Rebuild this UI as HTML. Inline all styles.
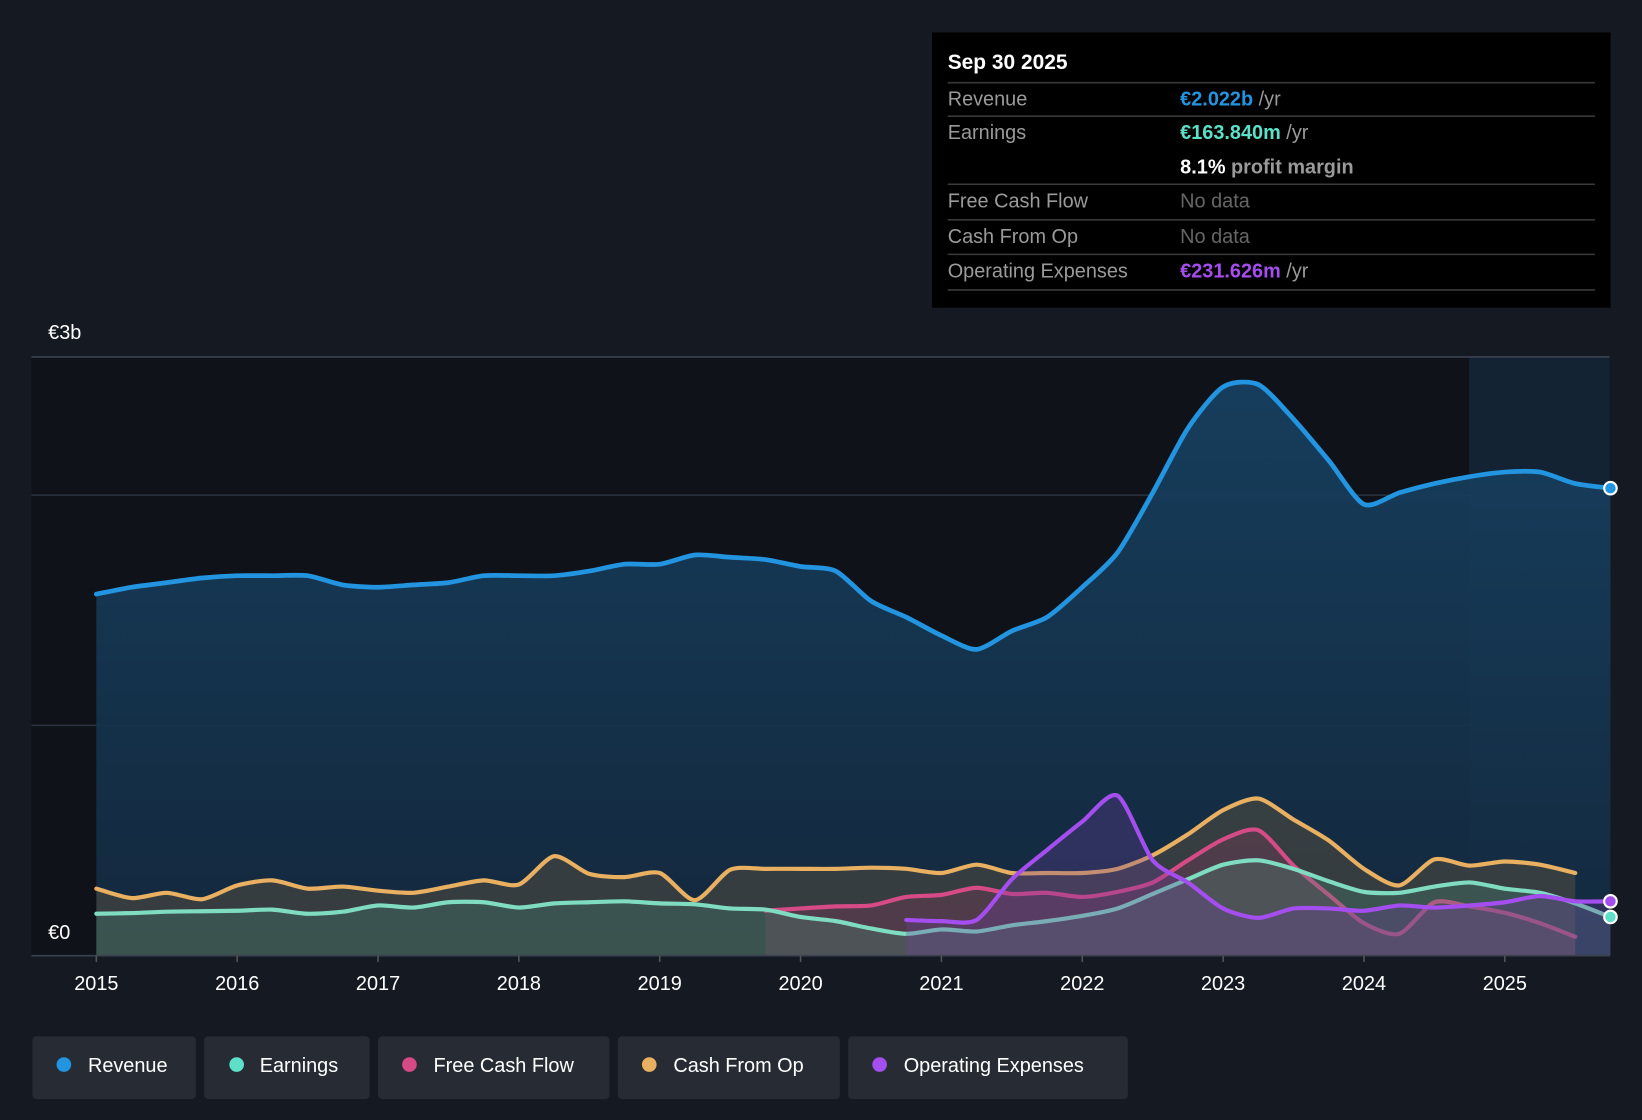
<!DOCTYPE html>
<html><head><meta charset="utf-8"><style>
html,body{margin:0;padding:0;background:#151a22;}
svg{display:block;font-family:"Liberation Sans",sans-serif;}
</style></head><body>
<svg id="chart" width="1642" height="1120" viewBox="0 0 1568 1070" preserveAspectRatio="none">
<defs>
<linearGradient id="revg" x1="0" y1="0" x2="0" y2="1"><stop offset="0" stop-color="#164060" stop-opacity="0.95"/><stop offset="1" stop-color="#142a40" stop-opacity="0.9"/></linearGradient>
</defs>
<rect x="0" y="0" width="1568" height="1070" fill="#151a22"/>
<rect x="30" y="341" width="1507" height="572" fill="#0f1219"/>
<rect x="1403" y="341" width="134" height="572" fill="#1b3a55" opacity="0.45"/>
<g id="grid"></g>
<g id="series"></g>
<g id="axes"></g>
<text x="46" y="324" fill="#ffffff" font-size="19">€3b</text>
<text x="46" y="897" fill="#ffffff" font-size="19">€0</text>
<g>
<rect x="890" y="31" width="648" height="263" fill="#000"/>
<text x="905" y="66" fill="#fff" font-size="20" font-weight="bold">Sep 30 2025</text>
<line x1="905" y1="79" x2="1523" y2="79" stroke="#3a3a3a" stroke-width="1.5"/>
<text x="905" y="101" fill="#9a9a9a" font-size="19">Revenue</text>
<text x="1127" y="101" font-size="19" font-weight="bold" fill="#2394df">€2.022b <tspan fill="#9a9a9a" font-weight="normal">/yr</tspan></text>
<line x1="905" y1="111" x2="1523" y2="111" stroke="#3a3a3a" stroke-width="1.5"/>
<text x="905" y="133" fill="#9a9a9a" font-size="19">Earnings</text>
<text x="1127" y="133" font-size="19" font-weight="bold" fill="#5ee0c8">€163.840m <tspan fill="#9a9a9a" font-weight="normal">/yr</tspan></text>
<text x="1127" y="166" font-size="19" font-weight="bold" fill="#fff">8.1% <tspan fill="#9a9a9a">profit margin</tspan></text>
<line x1="905" y1="176" x2="1523" y2="176" stroke="#3a3a3a" stroke-width="1.5"/>
<text x="905" y="198" fill="#9a9a9a" font-size="19">Free Cash Flow</text>
<text x="1127" y="198" fill="#666" font-size="19">No data</text>
<line x1="905" y1="210" x2="1523" y2="210" stroke="#3a3a3a" stroke-width="1.5"/>
<text x="905" y="232" fill="#9a9a9a" font-size="19">Cash From Op</text>
<text x="1127" y="232" fill="#666" font-size="19">No data</text>
<line x1="905" y1="243" x2="1523" y2="243" stroke="#3a3a3a" stroke-width="1.5"/>
<text x="905" y="265" fill="#9a9a9a" font-size="19">Operating Expenses</text>
<text x="1127" y="265" font-size="19" font-weight="bold" fill="#a54ef0">€231.626m <tspan fill="#9a9a9a" font-weight="normal">/yr</tspan></text>
<line x1="905" y1="277" x2="1523" y2="277" stroke="#3a3a3a" stroke-width="1.5"/>
</g>
<g>
<g><rect x="31" y="990" width="156" height="60" rx="4" fill="#262b34"/><circle cx="61" cy="1017" r="7" fill="#2394df"/><text x="84" y="1024" fill="#fff" font-size="19">Revenue</text></g>
<g><rect x="195" y="990" width="158" height="60" rx="4" fill="#262b34"/><circle cx="226" cy="1017" r="7" fill="#5ee0c8"/><text x="248" y="1024" fill="#fff" font-size="19">Earnings</text></g>
<g><rect x="361" y="990" width="221" height="60" rx="4" fill="#262b34"/><circle cx="391" cy="1017" r="7" fill="#d64a86"/><text x="414" y="1024" fill="#fff" font-size="19">Free Cash Flow</text></g>
<g><rect x="590" y="990" width="212" height="60" rx="4" fill="#262b34"/><circle cx="620" cy="1017" r="7" fill="#e8b060"/><text x="643" y="1024" fill="#fff" font-size="19">Cash From Op</text></g>
<g><rect x="810" y="990" width="267" height="60" rx="4" fill="#262b34"/><circle cx="840" cy="1017" r="7" fill="#a54ef0"/><text x="863" y="1024" fill="#fff" font-size="19">Operating Expenses</text></g>
</g>
</svg>
<script>
const years = [2015,2016,2017,2018,2019,2020,2021,2022,2023,2024,2025];
const gridValues = [1,2];
const revenueStart = 2015;
const revenue = [1.57,1.60,1.62,1.64,1.65,1.65,1.65,1.61,1.60,1.61,1.62,1.65,1.65,1.65,1.67,1.70,1.70,1.74,1.73,1.72,1.69,1.67,1.54,1.47,1.39,1.33,1.41,1.47,1.60,1.75,2.01,2.29,2.47,2.48,2.33,2.15,1.96,2.01,2.05,2.08,2.10,2.10,2.05,2.03];
const earningsStart = 2015;
const earnings = [0.182,0.185,0.191,0.193,0.195,0.200,0.182,0.191,0.218,0.209,0.232,0.232,0.209,0.227,0.232,0.236,0.227,0.223,0.205,0.200,0.168,0.150,0.118,0.095,0.114,0.105,0.132,0.150,0.173,0.205,0.268,0.332,0.395,0.414,0.377,0.323,0.277,0.273,0.300,0.318,0.291,0.273,0.227,0.168];
const cashOpStart = 2015;
const cashOp = [0.291,0.25,0.273,0.245,0.305,0.327,0.291,0.3,0.282,0.273,0.3,0.327,0.309,0.432,0.355,0.341,0.359,0.241,0.373,0.377,0.377,0.377,0.382,0.377,0.359,0.395,0.359,0.359,0.359,0.377,0.436,0.527,0.632,0.682,0.591,0.5,0.377,0.305,0.418,0.391,0.409,0.395,0.359];
const fcfStart = 2019.75;
const fcf = [0.195,0.205,0.214,0.218,0.255,0.264,0.295,0.268,0.273,0.255,0.277,0.318,0.414,0.505,0.545,0.391,0.264,0.141,0.095,0.232,0.214,0.186,0.141,0.082];
const opexStart = 2020.75;
const opex = [0.155,0.15,0.155,0.332,0.459,0.582,0.695,0.414,0.318,0.205,0.164,0.205,0.205,0.195,0.218,0.209,0.218,0.232,0.259,0.236,0.236];

const NS='http://www.w3.org/2000/svg';
const X0=92, PXY=134.5, Y0=913, PXB=220;
const xs = t => X0 + (t-2015)*PXY;
const ys = v => Y0 - v*PXB;
function mk(tag, attrs, parent){const e=document.createElementNS(NS,tag);for(const k in attrs)e.setAttribute(k,attrs[k]);parent.appendChild(e);return e;}
function pts(start, arr){return arr.map((v,i)=>[xs(start+i*0.25), ys(v)]);}
function smooth(p){const k=8;let d='M'+p[0][0]+','+p[0][1];for(let i=0;i<p.length-1;i++){const p0=p[i-1]||p[i],p1=p[i],p2=p[i+1],p3=p[i+2]||p2;const c1=[p1[0]+(p2[0]-p0[0])/k,p1[1]+(p2[1]-p0[1])/k],c2=[p2[0]-(p3[0]-p1[0])/k,p2[1]-(p3[1]-p1[1])/k];d+=' C'+c1[0]+','+c1[1]+' '+c2[0]+','+c2[1]+' '+p2[0]+','+p2[1];}return d;}
const grid=document.getElementById('grid'), series=document.getElementById('series'), axes=document.getElementById('axes');
let l=mk('line',{x1:30,x2:1537,y1:341,y2:341,stroke:'#3a4250','stroke-width':1.5},grid);


gridValues.forEach(v=>{const g=mk('line',{x1:30,x2:1537,y1:ys(v),y2:ys(v),stroke:'#2a323e','stroke-width':1.5},grid);

});
function draw(name,start,arr,color,fill,fillOp,width){
  const p=pts(start,arr);const d=smooth(p);
  const a=mk('path',{d:d+' L'+p[p.length-1][0]+','+Y0+' L'+p[0][0]+','+Y0+' Z',fill:fill,'fill-opacity':fillOp},series);
  
  
  const ln=mk('path',{d:d,fill:'none',stroke:color,'stroke-width':width,'stroke-linecap':'round'},series);
  
  
  return p;
}
const rp=draw('revenue',revenueStart,revenue,'#2394df','url(#revg)',1,4.5);
draw('cash-from-op',cashOpStart,cashOp,'#e8b060','#6a5a40',0.4,4);
draw('free-cash-flow',fcfStart,fcf,'#d64a86','#8a3a60',0.3,4);
const ep=draw('earnings',earningsStart,earnings,'#7fdcc0','#4a8a78',0.3,4);
const op=draw('operating-expenses',opexStart,opex,'#a54ef0','#7040a0',0.3,4);
[[rp,'#2394df','revenue-end-dot'],[ep,'#5ee0c8','earnings-end-dot'],[op,'#a54ef0','opex-end-dot']].forEach(([p,c,n])=>{const q=p[p.length-1];const dt=mk('circle',{cx:q[0],cy:q[1],r:6,fill:c,stroke:'#fff','stroke-width':2},series);

});
const ax=mk('line',{x1:30,x2:1537,y1:Y0,y2:Y0,stroke:'#3a4250','stroke-width':1.5},axes);


years.forEach(y=>{const t=mk('line',{x1:xs(y),x2:xs(y),y1:Y0,y2:Y0+6,stroke:'#555','stroke-width':1.5},axes);


const tx=mk('text',{x:xs(y),y:946,fill:'#fff','font-size':19,'text-anchor':'middle'},axes);tx.textContent=y;

});
</script>
</body></html>
